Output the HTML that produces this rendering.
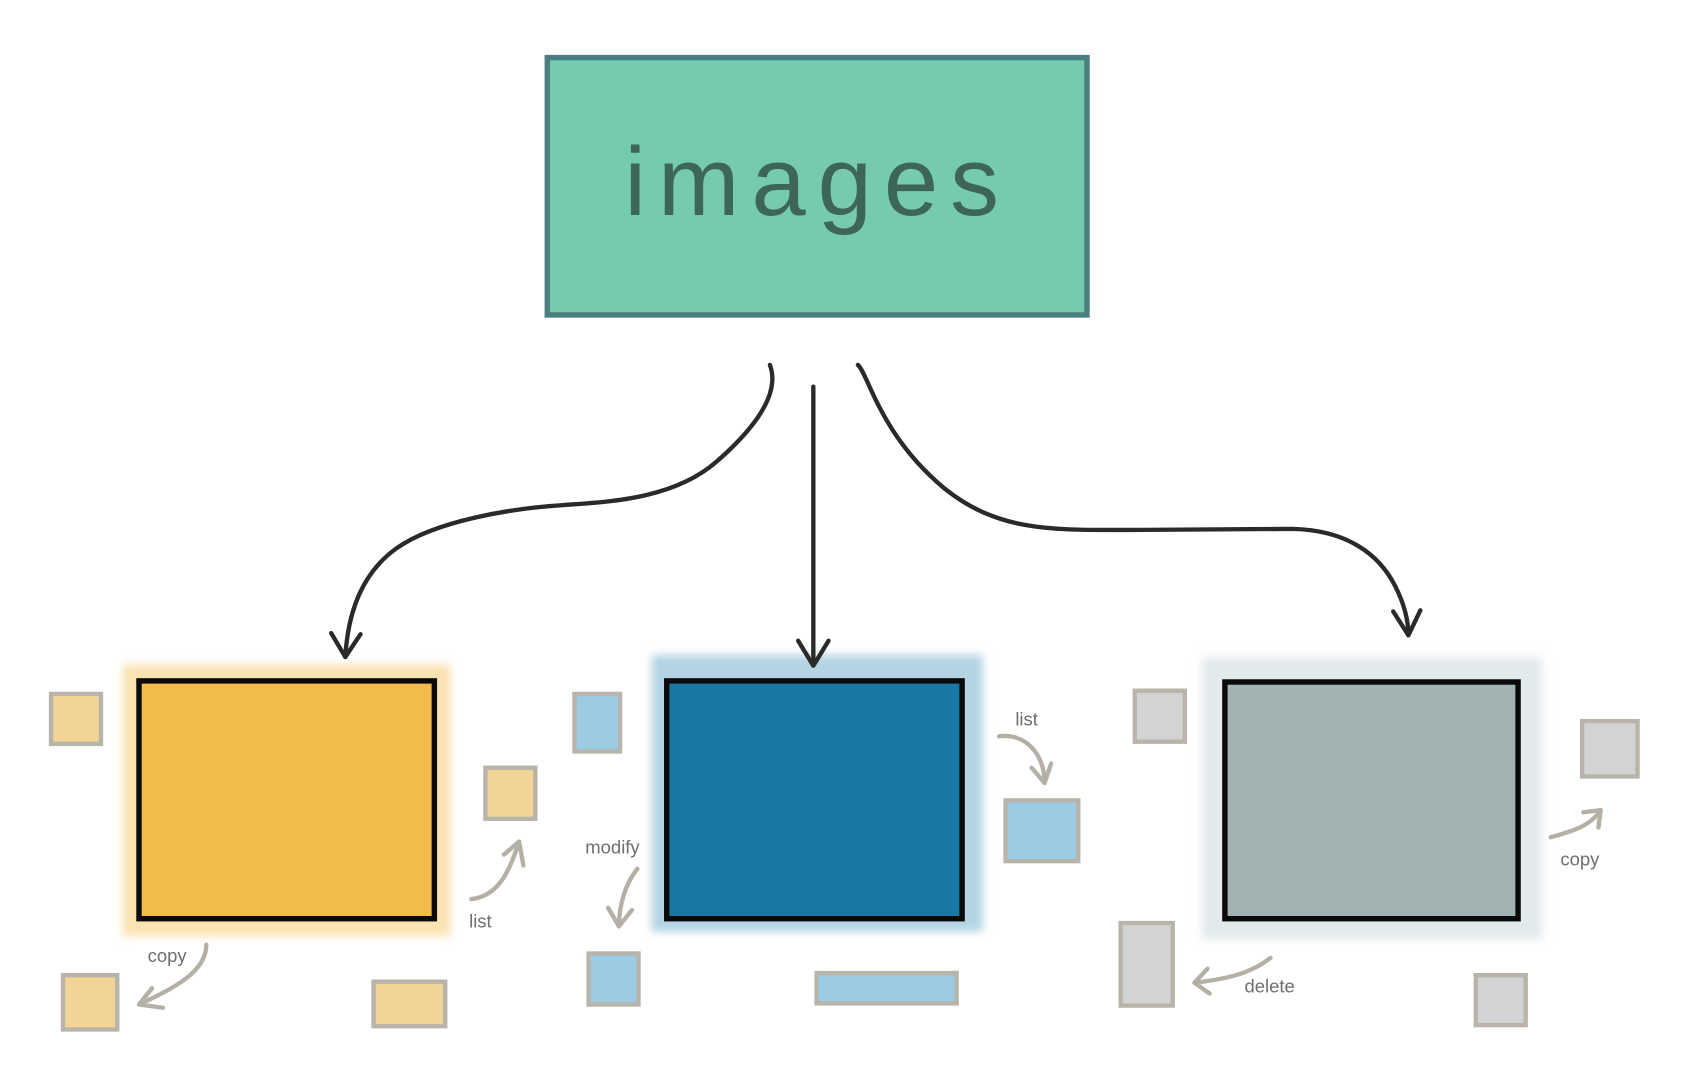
<!DOCTYPE html>
<html><head><meta charset="utf-8"><style>html,body{margin:0;padding:0;background:#fff}svg{display:block}</style></head>
<body>
<svg width="1694" height="1066" viewBox="0 0 1560 981.6" xmlns="http://www.w3.org/2000/svg">
<defs>
<filter id="b" x="-10%" y="-10%" width="120%" height="120%"><feGaussianBlur stdDeviation="4"/></filter>
</defs>
<rect width="1560" height="981.6" fill="#fff"/>
<rect x="504" y="53" width="497" height="237" fill="#76cab0" stroke="#4a7f80" stroke-width="5"/>
<text x="575" y="198" font-family="Liberation Sans, DejaVu Sans, sans-serif" font-size="90" fill="#3d6658" textLength="345" lengthAdjust="spacing">images</text>

<rect x="113" y="612" width="302" height="250" fill="#fae3b2" filter="url(#b)"/>
<rect x="600" y="603" width="305" height="255" fill="#b4d4e4" filter="url(#b)"/>
<rect x="1107" y="605" width="313" height="260" fill="#e3eaeb" filter="url(#b)"/>
<rect x="128" y="627" width="272" height="219" fill="#f2bb4b" stroke="#0a0a0a" stroke-width="5"/>
<rect x="614" y="627" width="272" height="219" fill="#1778a4" stroke="#0a0a0a" stroke-width="5"/>
<rect x="1128" y="628" width="270" height="218" fill="#a3b3b4" stroke="#0a0a0a" stroke-width="5"/>

<g stroke="#b8b4aa" stroke-width="4">
<rect x="47" y="639" width="46" height="46" fill="#f2d596"/>
<rect x="447" y="707" width="46" height="47" fill="#f2d596"/>
<rect x="58" y="898" width="50" height="50" fill="#f2d596"/>
<rect x="344" y="904" width="66" height="41" fill="#f2d596"/>
<rect x="529" y="639" width="42" height="53" fill="#9bcce4"/>
<rect x="926" y="737" width="67" height="56" fill="#9bcce4"/>
<rect x="542" y="878" width="46" height="47" fill="#9bcce4"/>
<rect x="752" y="896" width="129" height="28" fill="#9bcce4"/>
<rect x="1045" y="636" width="46" height="47" fill="#d3d3d3"/>
<rect x="1457" y="664" width="51" height="51" fill="#d3d3d3"/>
<rect x="1032" y="850" width="48" height="76" fill="#d3d3d3"/>
<rect x="1359" y="898" width="46" height="46" fill="#d3d3d3"/>
</g>

<g fill="none" stroke="#2a2a28" stroke-width="4" stroke-linecap="round" stroke-linejoin="round">
<path d="M709,336 C718,360 700,390 660,425 C620,460 560,462 520,465 C470,468 400,480 365,505 C330,530 320,570 318,605"/>
<path d="M305,583 L318,605 L332,584"/>
<path d="M749,356 L749,612"/>
<path d="M735,590 L749,613 L763,590"/>
<path d="M790,336 C800,345 810,400 870,450 C920,490 970,488 1040,488 L1190,487 C1240,488 1270,510 1285,540 C1295,560 1297,575 1297,585"/>
<path d="M1283,563 L1297,585 L1308,562"/>
</g>

<g fill="none" stroke="#b5b0a6" stroke-width="4" stroke-linecap="round" stroke-linejoin="round">
<path d="M190,870 C190,895 160,910 128,925"/><path d="M140,910 L128,925 L150,928"/>
<path d="M434,828 C460,825 470,800 478,775"/><path d="M464,787 L478,775 L482,797"/>
<path d="M587,800 C575,815 570,835 570,853"/><path d="M560,836 L570,853 L582,838"/>
<path d="M920,678 C945,675 962,695 962,721"/><path d="M950,707 L962,721 L968,703"/>
<path d="M1428,771 C1450,765 1465,760 1474,746"/><path d="M1458,748 L1474,746 L1472,762"/>
<path d="M1170,882 C1150,898 1125,902 1100,905"/><path d="M1112,892 L1100,905 L1114,915"/>
</g>

<g font-family="Liberation Sans, DejaVu Sans, sans-serif" font-size="17" fill="#6e6e6e">
<text x="136" y="886">copy</text>
<text x="432" y="854">list</text>
<text x="539" y="786">modify</text>
<text x="935" y="668">list</text>
<text x="1437" y="797">copy</text>
<text x="1146" y="914">delete</text>
</g>
</svg>
</body></html>
